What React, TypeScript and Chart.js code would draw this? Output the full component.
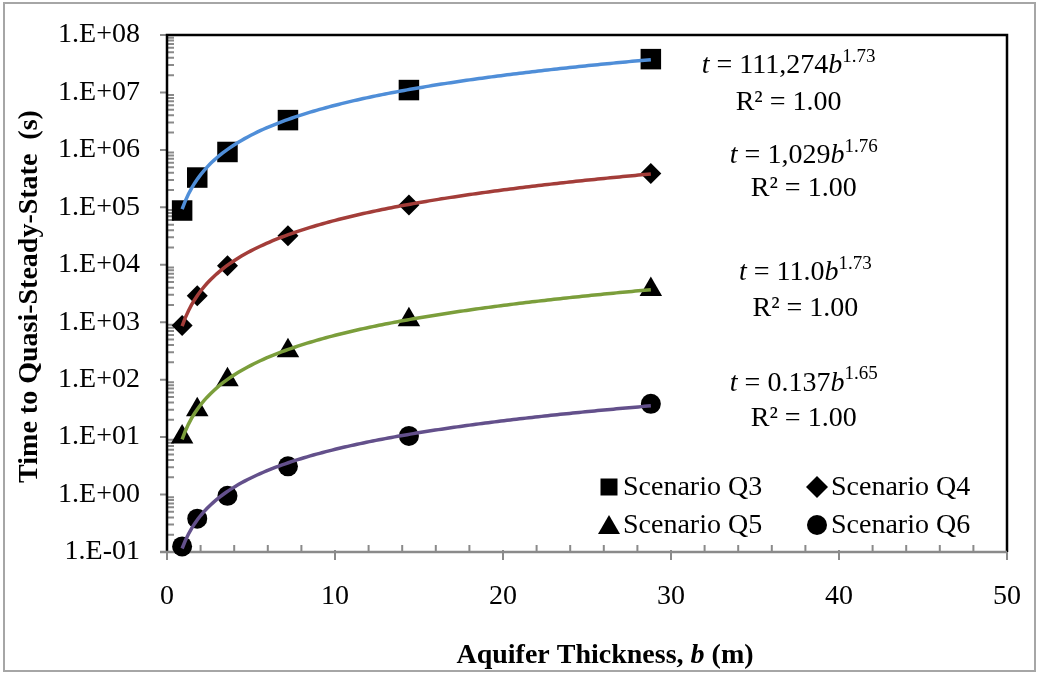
import React, { useEffect, useRef } from 'react';
import { Chart, registerables } from 'chart.js';

Chart.register(...registerables);

// ---------- data ----------
const thickness = [0.9, 1.8, 3.6, 7.2, 14.4, 28.8];
const scenarioQ3 = [88000, 330000, 920000, 3300000, 11000000, 38000000];
const scenarioQ4 = [880, 2900, 9600, 32000, 110000, 390000];
const scenarioQ5 = [10, 30, 100, 320, 1100, 3700];
const scenarioQ6 = [0.125, 0.38, 0.95, 3.1, 10.5, 38];
const seriesNames = ['Scenario Q3', 'Scenario Q4', 'Scenario Q5', 'Scenario Q6'];

// power-law trendlines t = a * b^n, as printed on the chart
const fitCoef = [111274, 1029, 11.0, 0.137];
const fitExp = [1.73, 1.76, 1.73, 1.65];
const fitCoefLabels = ['111,274', '1,029', '11.0', '0.137'];
const fitExpLabels = ['1.73', '1.76', '1.73', '1.65'];
const rSquaredLabels = ['1.00', '1.00', '1.00', '1.00'];

const yTickExponents = [-1, 0, 1, 2, 3, 4, 5, 6, 7, 8];
const xTicks = [0, 10, 20, 30, 40, 50];

// ---------- styles ----------
const SERIF = '"Liberation Serif", "Times New Roman", serif';
const trendColors = ['#4F8ED8', '#A33D39', '#7B9E3B', '#63508B'];
const pointStyles = ['rect', 'rectRot', 'triangle', 'circle'];
const pointRadii = [14.5, 10.5, 13, 10];
const AXIS_GRAY = '#8a8a8a';

function trendPoints(i: number) {
  const pts: { x: number; y: number }[] = [];
  const x0 = thickness[0];
  const x1 = thickness[thickness.length - 1];
  const n = 150;
  for (let k = 0; k <= n; k++) {
    const x = x0 + ((x1 - x0) * k) / n;
    pts.push({ x, y: fitCoef[i] * Math.pow(x, fitExp[i]) });
  }
  return pts;
}

type Run = { t: string; font: string; dy?: number };

function drawRuns(ctx: CanvasRenderingContext2D, runs: Run[], cx: number, cy: number) {
  let w = 0;
  for (const r of runs) {
    ctx.font = r.font;
    w += ctx.measureText(r.t).width;
  }
  let x = cx - w / 2;
  ctx.textBaseline = 'middle';
  ctx.textAlign = 'left';
  for (const r of runs) {
    ctx.font = r.font;
    ctx.fillText(r.t, x, cy + (r.dy || 0));
    x += ctx.measureText(r.t).width;
  }
}

function drawMarker(ctx: CanvasRenderingContext2D, style: string, x: number, y: number) {
  ctx.beginPath();
  if (style === 'rect') {
    ctx.rect(x - 8.5, y - 8.5, 17, 17);
  } else if (style === 'rectRot') {
    ctx.moveTo(x - 11, y);
    ctx.lineTo(x, y - 11);
    ctx.lineTo(x + 11, y);
    ctx.lineTo(x, y + 11);
    ctx.closePath();
  } else if (style === 'triangle') {
    ctx.moveTo(x, y - 10);
    ctx.lineTo(x + 11, y + 9);
    ctx.lineTo(x - 11, y + 9);
    ctx.closePath();
  } else {
    ctx.arc(x, y, 10, 0, Math.PI * 2);
  }
  ctx.fillStyle = '#000';
  ctx.fill();
}

const framePlugin = {
  id: 'frame',
  beforeDraw(chart: any) {
    const ctx = chart.ctx as CanvasRenderingContext2D;
    ctx.save();
    ctx.fillStyle = '#fff';
    ctx.fillRect(0, 0, chart.width, chart.height);
    ctx.strokeStyle = '#a6a6a6';
    ctx.lineWidth = 2;
    ctx.strokeRect(4, 3, chart.width - 6, chart.height - 5);
    ctx.restore();
  },
  beforeDatasetsDraw(chart: any) {
    const ctx = chart.ctx as CanvasRenderingContext2D;
    const { left, right, top, bottom } = chart.chartArea;
    const xs = chart.scales.x;
    const ys = chart.scales.y;
    ctx.save();
    // ticks
    ctx.strokeStyle = AXIS_GRAY;
    ctx.lineWidth = 2;
    ctx.beginPath();
    for (const e of yTickExponents) {
      const py = ys.getPixelForValue(Math.pow(10, e));
      ctx.moveTo(left - 7, py);
      ctx.lineTo(left, py);
      if (e < yTickExponents[yTickExponents.length - 1]) {
        for (let k = 2; k <= 9; k++) {
          const my = ys.getPixelForValue(k * Math.pow(10, e));
          ctx.moveTo(left, my);
          ctx.lineTo(left + 7, my);
        }
      }
    }
    for (let v = 0; v <= 50; v += 2) {
      const px = xs.getPixelForValue(v);
      if (v % 10 === 0) {
        ctx.moveTo(px, bottom - 2);
        ctx.lineTo(px, bottom + 8);
      } else {
        ctx.moveTo(px, bottom);
        ctx.lineTo(px, bottom - 7);
      }
    }
    ctx.stroke();
    // plot border
    ctx.strokeStyle = '#000';
    ctx.lineWidth = 2.5;
    ctx.beginPath();
    ctx.moveTo(left, bottom);
    ctx.lineTo(left, top);
    ctx.lineTo(right, top);
    ctx.lineTo(right, bottom);
    ctx.stroke();
    // x axis line
    ctx.strokeStyle = AXIS_GRAY;
    ctx.lineWidth = 2.5;
    ctx.beginPath();
    ctx.moveTo(left - 7, bottom);
    ctx.lineTo(right, bottom);
    ctx.stroke();
    ctx.restore();
  },
  afterDraw(chart: any) {
    const ctx = chart.ctx as CanvasRenderingContext2D;
    const { right, top, bottom } = chart.chartArea;
    const xs = chart.scales.x;
    const ys = chart.scales.y;
    ctx.save();
    ctx.fillStyle = '#000';

    // axis titles
    drawRuns(
      ctx,
      [
        { t: 'Aquifer Thickness, ', font: `bold 28px ${SERIF}` },
        { t: 'b', font: `italic bold 28px ${SERIF}` },
        { t: ' (m)', font: `bold 28px ${SERIF}` },
      ],
      605,
      656
    );
    ctx.save();
    ctx.translate(30, (top + bottom) / 2 + 3);
    ctx.rotate(-Math.PI / 2);
    drawRuns(ctx, [{ t: 'Time to Quasi-Steady-State  (s)', font: `bold 28px ${SERIF}` }], 0, 0);
    ctx.restore();

    // trendline equations
    const anchors = [
      { x: 37.0, e1: 7.458, e2: 6.829 },
      { x: 37.9, e1: 5.902, e2: 5.325 },
      { x: 38.0, e1: 3.857, e2: 3.245 },
      { x: 37.9, e1: 1.934, e2: 1.322 },
    ];
    anchors.forEach((a, i) => {
      const cx = xs.getPixelForValue(a.x);
      drawRuns(
        ctx,
        [
          { t: 't', font: `italic 28px ${SERIF}` },
          { t: ' = ' + fitCoefLabels[i], font: `28px ${SERIF}` },
          { t: 'b', font: `italic 28px ${SERIF}` },
          { t: fitExpLabels[i], font: `19px ${SERIF}`, dy: -9 },
        ],
        cx,
        ys.getPixelForValue(Math.pow(10, a.e1))
      );
      drawRuns(
        ctx,
        [{ t: 'R² = ' + rSquaredLabels[i], font: `28px ${SERIF}` }],
        cx,
        ys.getPixelForValue(Math.pow(10, a.e2))
      );
    });

    // legend
    const lx = [right - 398, right - 190];
    const ly = [bottom - 65, bottom - 27];
    seriesNames.forEach((name, i) => {
      const col = i % 2;
      const row = Math.floor(i / 2);
      drawMarker(ctx, pointStyles[i], lx[col], ly[row]);
      ctx.fillStyle = '#000';
      ctx.font = `28px ${SERIF}`;
      ctx.textAlign = 'left';
      ctx.textBaseline = 'middle';
      ctx.fillText(name, lx[col] + 14, ly[row] + 1);
    });
    ctx.restore();
  },
};

export default function App() {
  const ref = useRef<HTMLCanvasElement>(null);

  useEffect(() => {
    const canvas = ref.current;
    if (!canvas) return;
    const series = [scenarioQ3, scenarioQ4, scenarioQ5, scenarioQ6];
    const datasets: any[] = [];
    series.forEach((vals, i) => {
      datasets.push({
        type: 'line',
        label: seriesNames[i] + ' trend',
        data: trendPoints(i),
        borderColor: trendColors[i],
        borderWidth: 3.5,
        pointRadius: 0,
        fill: false,
        tension: 0,
        order: 0,
      });
    });
    series.forEach((vals, i) => {
      datasets.push({
        type: 'scatter',
        label: seriesNames[i],
        data: vals.map((v, k) => ({ x: thickness[k], y: v })),
        pointStyle: pointStyles[i],
        pointRadius: pointRadii[i],
        backgroundColor: '#000',
        borderColor: '#000',
        borderWidth: 0,
        showLine: false,
        clip: false,
        order: 1,
      });
    });

    const chart = new Chart(canvas, {
      type: 'scatter',
      data: { datasets },
      plugins: [framePlugin],
      options: {
        animation: false,
        responsive: false,
        devicePixelRatio: 1,
        layout: { padding: { top: 35, right: 30, left: 0, bottom: 0 } },
        plugins: {
          legend: { display: false },
          tooltip: { enabled: false },
          title: { display: false },
        },
        scales: {
          x: {
            type: 'linear',
            min: 0,
            max: 50,
            grid: { display: false, drawTicks: false },
            border: { display: false },
            afterBuildTicks: (scale: any) => {
              scale.ticks = xTicks.map((v) => ({ value: v }));
            },
            afterFit: (scale: any) => {
              scale.height = 121;
              scale.paddingLeft = 0;
              scale.paddingRight = 0;
            },
            ticks: {
              padding: 28,
              color: '#000',
              font: { family: SERIF, size: 28 },
              maxRotation: 0,
              callback: (v: any) => String(v),
            },
          },
          y: {
            type: 'logarithmic',
            min: 0.1,
            max: 1e8,
            grid: { display: false, drawTicks: false },
            border: { display: false },
            afterBuildTicks: (scale: any) => {
              scale.ticks = yTickExponents.map((e) => ({ value: Math.pow(10, e) }));
            },
            afterFit: (scale: any) => {
              scale.width = 167;
              scale.paddingTop = 0;
              scale.paddingBottom = 0;
            },
            ticks: {
              padding: 27,
              color: '#000',
              font: { family: SERIF, size: 28 },
              callback: (v: any) => {
                const e = Math.round(Math.log10(Number(v)));
                return '1.E' + (e < 0 ? '-' : '+') + String(Math.abs(e)).padStart(2, '0');
              },
            },
          },
        },
      } as any,
    });
    return () => chart.destroy();
  }, []);

  return (
    <div style={{ position: 'absolute', left: 0, top: 0, width: 1037, height: 673, background: '#fff' }}>
      <canvas ref={ref} width={1037} height={673} style={{ display: 'block' }} />
    </div>
  );
}
